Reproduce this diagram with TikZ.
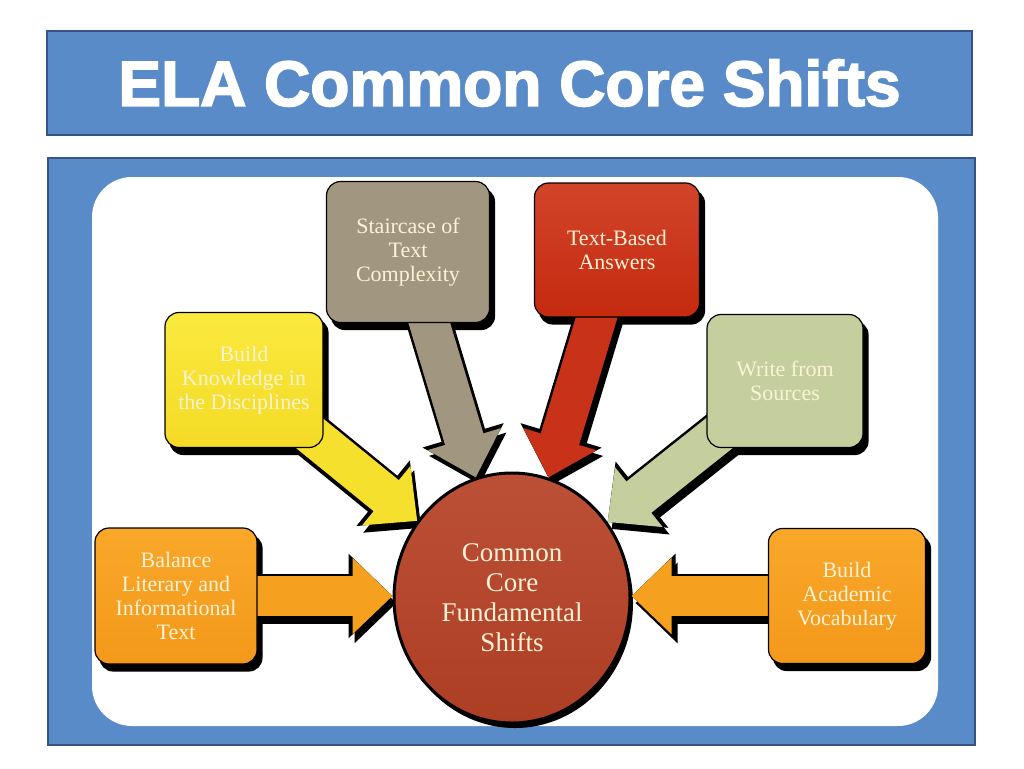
\documentclass[tikz,border=0pt]{standalone}
\usepackage{fontspec}
\setmainfont{Liberation Serif}
\newfontfamily\titlefont[FakeBold=2.6]{Liberation Sans Bold}
\usetikzlibrary{arrows.meta,calc,shapes.geometric}
\definecolor{slideblue}{RGB}{90,139,201}
\definecolor{edgeblue}{RGB}{55,85,130}
\definecolor{cream}{RGB}{252,243,214}
\definecolor{orngT}{RGB}{249,168,42}
\definecolor{orngB}{RGB}{243,152,26}
\definecolor{orng}{RGB}{246,160,32}
\definecolor{yelT}{RGB}{250,234,62}
\definecolor{yelB}{RGB}{244,218,38}
\definecolor{yel}{RGB}{246,224,46}
\definecolor{tan}{RGB}{161,151,128}
\definecolor{redT}{RGB}{210,68,42}
\definecolor{redB}{RGB}{196,42,14}
\definecolor{redd}{RGB}{200,50,24}
\definecolor{sage}{RGB}{196,207,157}
\definecolor{coreT}{RGB}{188,80,54}
\definecolor{coreB}{RGB}{172,62,36}
\pgfdeclarelayer{bglayer}
\pgfdeclarelayer{shadowlayer}
\pgfdeclarelayer{arrowlayer}
\pgfsetlayers{bglayer,shadowlayer,arrowlayer,main}
\tikzset{
  box/.style={rectangle, rounded corners=14pt, draw=black, line width=1.2pt,
    align=center, text=cream, inner sep=0pt,
    font=\fontsize{22}{24}\selectfont},
  shaft/.style={line width=40pt, -{Triangle[length=40pt,width=74pt]}, shorten <=-25pt},
  shaftline/.style={line width=45pt, -{Triangle[length=44pt,width=82pt]}, shorten <=-25pt, black},
  shaftshadow/.style={line width=42pt, -{Triangle[length=42pt,width=78pt]}, shorten <=-25pt, black,
    transform canvas={shift={(4pt,-7pt)}}},
}
\begin{document}
\begin{tikzpicture}[x=1pt,y=-1pt]
\useasboundingbox (0,0) rectangle (1024,768);
% nodes
\node[box, top color=orngT, bottom color=orngB, minimum width=162, minimum height=136] (bal) at (176,596)
  {Balance\\Literary and\\Informational\\Text};
\node[box, top color=yelT, bottom color=yelB, minimum width=158, minimum height=135] (know) at (244,380)
  {Build\\Knowledge in\\the Disciplines};
\node[box, fill=tan, minimum width=163, minimum height=141] (stair) at (408,252)
  {Staircase of\\Text\\Complexity};
\node[box, top color=redT, bottom color=redB, minimum width=165, minimum height=134] (tba) at (617,250)
  {Text-Based\\Answers};
\node[box, fill=sage, minimum width=156, minimum height=133] (write) at (785,381)
  {Write from\\Sources};
\node[box, top color=orngT, bottom color=orngB, minimum width=157, minimum height=135] (vocab) at (847,596)
  {Build\\Academic\\Vocabulary};
\node[ellipse, draw=black, line width=3pt, top color=coreT, bottom color=coreB,
  minimum width=236, minimum height=250,
  align=center, text=cream, inner sep=0pt, font=\fontsize{27}{30}\selectfont] (core) at (512,598)
  {Common\\Core\\Fundamental\\Shifts};
% background
\begin{pgfonlayer}{bglayer}
  \node[rectangle, fill=slideblue, draw=edgeblue, line width=2pt, minimum width=925, minimum height=104,
    inner sep=0pt, text=white, font=\titlefont\fontsize{64}{64}\selectfont] (title) at (509.5,83)
    {ELA Common Core Shifts};
  \fill[slideblue, draw=edgeblue, line width=2pt] (48,158) rectangle (975,745);
  \fill[white, rounded corners=40pt] (92,177) rectangle (938,726);
\end{pgfonlayer}
% shadows
\begin{pgfonlayer}{shadowlayer}
  \foreach \n in {bal,know,stair,tba,write,vocab}
    \fill[black, rounded corners=14pt] ([shift={(5,7)}]\n.north west) rectangle ([shift={(5,7)}]\n.south east);
  \fill[black] ([shift={(3,5)}]core.center) ellipse [x radius=118, y radius=125];
\end{pgfonlayer}
% arrows
\begin{pgfonlayer}{arrowlayer}
  \foreach \n in {know,stair,tba,write} {
    \draw[shaftshadow] (\n) -- (core);
    \draw[shaftline] (\n) -- (core);
  }
  \draw[shaftshadow] (bal.east) -- (bal.east -| core.west);
  \draw[shaftline] (bal.east) -- (bal.east -| core.west);
  \draw[shaftshadow] (vocab.west) -- (vocab.west -| core.east);
  \draw[shaftline] (vocab.west) -- (vocab.west -| core.east);
  \draw[shaft, orng] (bal.east) -- (bal.east -| core.west);
  \draw[shaft, yel] (know) -- (core);
  \draw[shaft, tan] (stair) -- (core);
  \draw[shaft, redd] (tba) -- (core);
  \draw[shaft, sage] (write) -- (core);
  \draw[shaft, orng] (vocab.west) -- (vocab.west -| core.east);
\end{pgfonlayer}
\end{tikzpicture}
\end{document}
